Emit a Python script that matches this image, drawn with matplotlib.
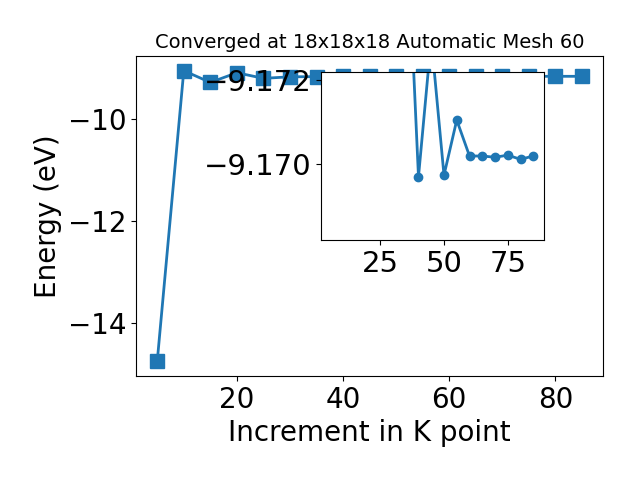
import matplotlib
matplotlib.use("Agg")
import matplotlib.pyplot as plt

kpoints = [5, 10, 15, 20, 25, 30, 35, 40, 45, 50, 55, 60, 65, 70, 75, 80, 85]
energy = [-14.75, -9.06, -9.29, -9.10, -9.21, -9.18, -9.1764, -9.16969, -9.1730,
          -9.16973, -9.17105, -9.17019, -9.17019, -9.17016, -9.17021, -9.17011, -9.17019]

inset_start = 6  # inset shows the converged part from 35 onward
inset_yticks = [-9.172, -9.170]
inset_xticks = [25, 50, 75]

fig = plt.figure(figsize=(6.4, 4.8), dpi=100)
ax = fig.add_axes([0.2125, 0.217, 0.730, 0.666])
ax.plot(kpoints, energy, marker='s', markersize=10, linewidth=2, color='#1f77b4')
ax.set_xlabel("Increment in K point", fontsize=20)
ax.set_ylabel("Energy (eV)", fontsize=20)
ax.set_title("Converged at 18x18x18 Automatic Mesh 60", fontsize=14)
ax.tick_params(labelsize=20)
ax.set_xticks([20, 40, 60, 80])
ax.set_yticks([-14, -12, -10])

ax2 = fig.add_axes([0.5016, 0.5, 0.3484, 0.35])
ax2.plot(kpoints[inset_start:], energy[inset_start:], marker='o', markersize=6,
         linewidth=2, color='#1f77b4')
ax2.set_xlim(1.8, 89.2)
ax2.set_ylim(-9.16818, -9.1722)
ax2.set_yticks(inset_yticks)
ax2.set_yticklabels(["\u22129.172", "\u22129.170"])
ax2.set_xticks(inset_xticks)
ax2.tick_params(labelsize=21)

fig.savefig("out.png", dpi=100)
